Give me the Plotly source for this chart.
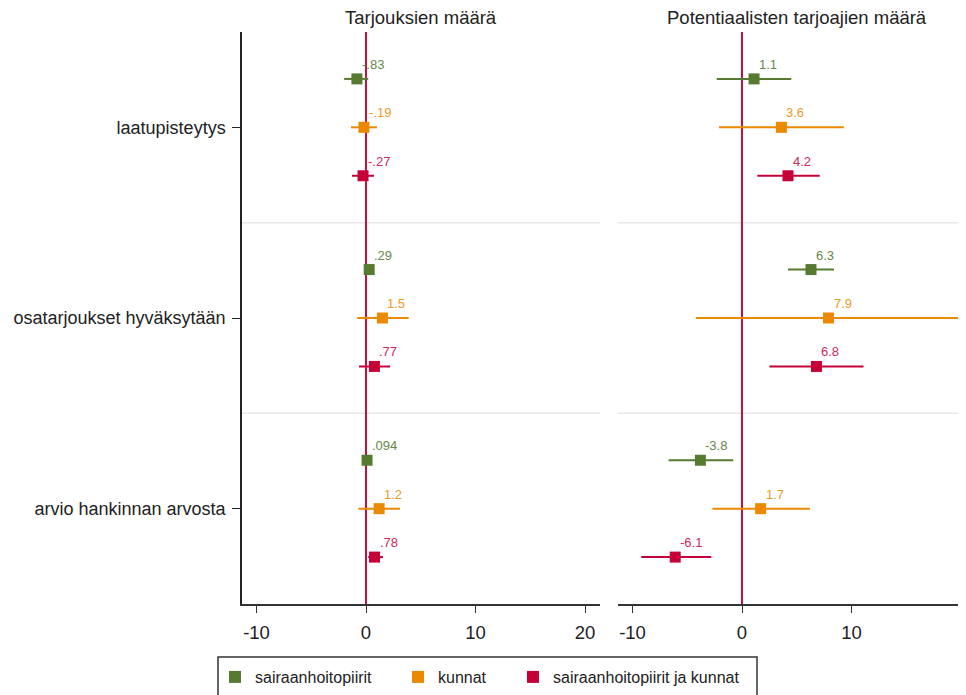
import plotly.graph_objects as go

# ---------------- data ----------------
categories = ["laatupisteytys", "osatarjoukset hyväksytään", "arvio hankinnan arvosta"]
series_names = ["sairaanhoitopiirit", "kunnat", "sairaanhoitopiirit ja kunnat"]
panel_titles = ["Tarjouksien määrä", "Potentiaalisten tarjoajien määrä"]

# Panel 1: Tarjouksien määrä  (estimate, CI low, CI high) per category
p1_shp_est = [-0.83, 0.29, 0.094]
p1_shp_lo = [-2.0, 0.0, -0.2]
p1_shp_hi = [0.2, 0.6, 0.4]
p1_kun_est = [-0.19, 1.5, 1.2]
p1_kun_lo = [-1.37, -0.8, -0.7]
p1_kun_hi = [1.0, 3.9, 3.1]
p1_both_est = [-0.27, 0.77, 0.78]
p1_both_lo = [-1.28, -0.64, 0.2]
p1_both_hi = [0.73, 2.2, 1.55]

# Panel 2: Potentiaalisten tarjoajien määrä
p2_shp_est = [1.1, 6.3, -3.8]
p2_shp_lo = [-2.3, 4.2, -6.7]
p2_shp_hi = [4.5, 8.4, -0.8]
p2_kun_est = [3.6, 7.9, 1.7]
p2_kun_lo = [-2.1, -4.2, -2.7]
p2_kun_hi = [9.3, 20.1, 6.2]
p2_both_est = [4.2, 6.8, -6.1]
p2_both_lo = [1.4, 2.5, -9.2]
p2_both_hi = [7.1, 11.1, -2.8]

x_ticks = [-10, 0, 10, 20]

# ---------------- layout helpers (screen px -> paper) ----------------
OFF = 8                      # page body margin
FIG_W, FIG_H = 958, 687
L, T, R, B = 234, 24, 958, 596   # plot area in figure px


def px(sx):
    return (sx - OFF - L) / (R - L)


def py(sy):
    return (B - (sy - OFF)) / (B - T)


colors = ["#557A30", "#EB8A00", "#C50038"]
label_colors = ["#66884A", "#EE9A2A", "#CC2A5A"]
zero_color = "#C8103C"
offsets = [-0.254, 0.0, 0.254]
FONT = "Liberation Sans, Arial, sans-serif"
TXT = "#222222"


def stata_fmt(v):
    s = f"{v:.2g}"
    if s.startswith("0."):
        s = s[1:]
    elif s.startswith("-0."):
        s = "-" + s[2:]
    return s


panels = [
    [(p1_shp_est, p1_shp_lo, p1_shp_hi), (p1_kun_est, p1_kun_lo, p1_kun_hi),
     (p1_both_est, p1_both_lo, p1_both_hi)],
    [(p2_shp_est, p2_shp_lo, p2_shp_hi), (p2_kun_est, p2_kun_lo, p2_kun_hi),
     (p2_both_est, p2_both_lo, p2_both_hi)],
]
legend_ids = ["legend", "legend2", "legend3"]

fig = go.Figure()
annotations = []
for pi, panel in enumerate(panels):
    xa = "x" if pi == 0 else "x2"
    ya = "y" if pi == 0 else "y2"
    for si, (est, lo, hi) in enumerate(panel):
        ys = [ci + offsets[si] for ci in range(len(categories))]
        fig.add_trace(go.Scatter(
            x=est, y=ys, xaxis=xa, yaxis=ya, mode="markers",
            name=series_names[si], legend=legend_ids[si],
            showlegend=(pi == 0),
            marker=dict(symbol="square", size=11, color=colors[si]),
            error_x=dict(type="data", symmetric=False,
                         array=[h - e for h, e in zip(hi, est)],
                         arrayminus=[e - l for e, l in zip(est, lo)],
                         color=colors[si], thickness=2, width=0),
            hoverinfo="skip",
        ))
        for e, y in zip(est, ys):
            annotations.append(dict(
                x=e, y=y, xref=xa, yref=ya, text=stata_fmt(e),
                showarrow=False, xanchor="left", yanchor="bottom",
                xshift=3, yshift=5,
                font=dict(family=FONT, size=13, color=label_colors[si]),
            ))

# panel titles
for title, cx in zip(panel_titles, [421, 797]):
    annotations.append(dict(x=px(cx), y=1, xref="paper", yref="paper",
                            text=title, showarrow=False,
                            xanchor="center", yanchor="bottom", yshift=2,
                            font=dict(family=FONT, size=18.5, color=TXT)))

shapes = []
for xa, ya in [("x", "y"), ("x2", "y2")]:
    for yv in [0.5, 1.5]:
        shapes.append(dict(type="line", xref=f"{xa} domain", yref=ya,
                           x0=0, x1=1, y0=yv, y1=yv,
                           line=dict(color="#E8E8E8", width=1.5), layer="below"))
    shapes.append(dict(type="line", xref=xa, yref=f"{ya} domain",
                       x0=0, x1=0, y0=0, y1=1,
                       line=dict(color=zero_color, width=2), layer="below"))

# legend frame
shapes.append(dict(type="rect", xref="paper", yref="paper",
                   x0=px(218), x1=px(757), y0=py(698), y1=py(657),
                   line=dict(color="#333", width=1.5), fillcolor="white",
                   layer="below"))

axis_common = dict(
    tickvals=x_ticks, ticktext=[str(t) for t in x_ticks],
    showgrid=False, zeroline=False, showline=True, linecolor="#333",
    linewidth=1.5, ticks="outside", ticklen=7, tickcolor="#333",
    ticklabelstandoff=4,
    tickfont=dict(family=FONT, size=18.5, color=TXT),
)

legend_common = dict(orientation="h", xanchor="left", yanchor="middle",
                     y=py(677), bgcolor="rgba(0,0,0,0)", borderwidth=0,
                     font=dict(family=FONT, size=16, color=TXT),
                     itemsizing="constant")
sym_x = [235, 418, 533]   # legend symbol centres (screen px)
SYM_OFF = 20

fig.update_layout(
    width=FIG_W, height=FIG_H,
    margin=dict(l=L, r=FIG_W - R, t=T, b=FIG_H - B),
    plot_bgcolor="white", paper_bgcolor="white",
    xaxis=dict(domain=[0, px(600)], range=[(242 - 366) / 10.95, (600 - 366) / 10.95],
               anchor="y", **axis_common),
    xaxis2=dict(domain=[px(618), 1], range=[(618 - 742) / 10.95, (966 - 742) / 10.95],
                anchor="y2", **axis_common),
    yaxis=dict(range=[2.5, -0.5], tickvals=[0, 1, 2], ticktext=categories,
               showgrid=False, zeroline=False, showline=True, linecolor="#222",
               linewidth=1.5, ticks="outside", ticklen=8, tickcolor="#222",
               ticklabelstandoff=3,
               tickfont=dict(family=FONT, size=18, color=TXT), anchor="x"),
    yaxis2=dict(range=[2.5, -0.5], showticklabels=False, showgrid=False,
                zeroline=False, showline=False, anchor="x2"),
    showlegend=True,
    legend=dict(x=px(sym_x[0] - SYM_OFF), **legend_common),
    legend2=dict(x=px(sym_x[1] - SYM_OFF), **legend_common),
    legend3=dict(x=px(sym_x[2] - SYM_OFF), **legend_common),
    annotations=annotations,
    shapes=shapes,
)

fig.write_html("out.html")
